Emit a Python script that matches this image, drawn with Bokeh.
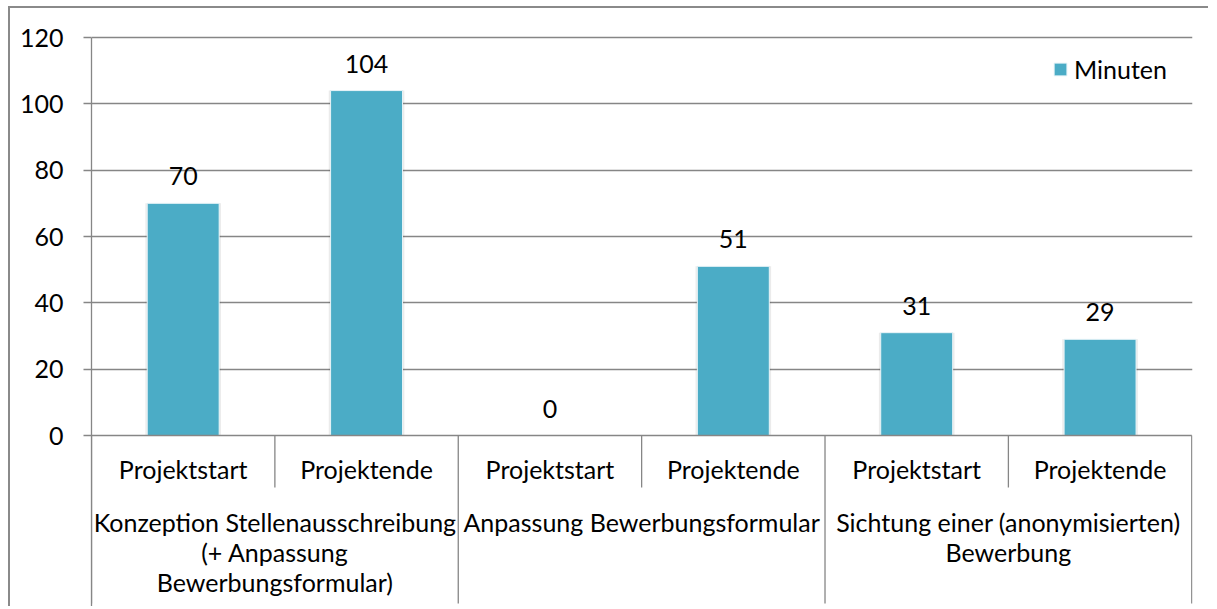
from bokeh.plotting import figure
from bokeh.models import Range1d, FixedTicker, ColumnDataSource, Legend, LegendItem
from bokeh.embed import file_html
from bokeh.resources import INLINE
from bokeh.core.properties import value

# ---- data ----
groups = ["Konzeption Stellenausschreibung\n(+ Anpassung\nBewerbungsformular)",
          "Anpassung Bewerbungsformular",
          "Sichtung einer (anonymisierten)\nBewerbung"]
phases = ["Projektstart", "Projektende"]
minutes = [70, 104, 0, 51, 31, 29]
y_ticks = [0, 20, 40, 60, 80, 100, 120]
series_name = "Minuten"

# ---- style ----
FONT = "Lato"
FS = "25px"
BAR = "#4BACC6"
GRID = "#868686"
TXT = "#000000"

W, H = 1200, 600
BL, BR, BT, BB = 81, 18, 21, 0
frame_h = H - BT - BB
k = 398.0 / 120.0          # px per y unit
top_pad = 8                 # px above top gridline
y_end = max(y_ticks) + top_pad / k
y_start = y_end - frame_h / k

n = len(groups) * len(phases)
p = figure(width=W, height=H, output_backend="svg", toolbar_location=None,
           x_range=Range1d(0, n + 0.004), y_range=Range1d(y_start, y_end),
           x_axis_location=None, min_border_left=BL, min_border_right=BR,
           min_border_top=BT, min_border_bottom=BB)
p.styles = {"margin-left": "8px", "margin-top": "6px",
            "border-left": "2px solid #8a8a8a", "border-top": "2px solid #8a8a8a"}
p.outline_line_color = None
p.background_fill_color = "#ffffff"
p.border_fill_color = "#ffffff"

# y axis
ya = p.yaxis[0]
ya.ticker = FixedTicker(ticks=y_ticks)
ya.bounds = (y_start, max(y_ticks))
ya.axis_line_color = GRID
ya.axis_line_width = 1.3
ya.major_tick_line_color = GRID
ya.major_tick_line_width = 1.3
ya.major_tick_out = 8
ya.major_tick_in = 0
ya.minor_tick_line_color = None
ya.major_label_standoff = 20
ya.major_label_text_font = FONT
ya.major_label_text_font_size = FS
ya.major_label_text_color = TXT

p.xgrid.visible = False
p.ygrid.ticker = FixedTicker(ticks=[t for t in y_ticks if t > 0])
p.ygrid.grid_line_color = GRID
p.ygrid.grid_line_width = 1.3

# bars
xs = [i + 0.5 for i in range(n)]
src = ColumnDataSource(dict(x=xs, top=minutes, lbl=[str(v) for v in minutes]))
bw = 72.0 / (1101.0 / n)
p.vbar(x="x", top="top", width=bw + 0.02, bottom=0, source=src,
       fill_color="#000000", fill_alpha=0.08, line_color=None)
bars = p.vbar(x="x", top="top", width=bw, bottom=0, source=src,
              fill_color=BAR, line_color="#e8f4f8", line_width=1)

# data labels
p.text(x="x", y="top", text="lbl", source=src, text_align="center",
       text_baseline="alphabetic", y_offset=-27, text_font=value(FONT),
       text_font_size=FS, text_color=TXT)

# category axis: baseline + separators
p.segment(x0=[0], y0=[0], x1=[n], y1=[0], line_color=GRID, line_width=1.3)
sep_x = list(range(n + 1))
sep_y1 = [-168.0 / k if i % len(phases) == 0 else -52.0 / k for i in sep_x]
p.segment(x0=sep_x, y0=[0] * len(sep_x), x1=sep_x, y1=sep_y1,
          line_color=GRID, line_width=1.3)

# phase labels
sub_src = ColumnDataSource(dict(x=xs, y=[-33.0 / k] * n,
                                t=[phases[i % len(phases)] for i in range(n)]))
p.text(x="x", y="y", text="t", source=sub_src, text_align="center",
       text_baseline="alphabetic", text_font=value(FONT), text_font_size=FS,
       text_color=TXT)

# group labels (wrapped lines)
gx, gy, gt = [], [], []
for gi, g in enumerate(groups):
    for li, line in enumerate(g.split("\n")):
        gx.append(gi * len(phases) + len(phases) / 2.0)
        gy.append(-(86.0 + 30.0 * li) / k)
        gt.append(line)
p.text(x=gx, y=gy, text=gt, text_align="center", text_baseline="alphabetic",
       text_font=value(FONT), text_font_size=FS, text_color=TXT)

# legend
leg = Legend(items=[LegendItem(label=series_name, renderers=[bars])],
             location="top_right", margin=25, padding=0, spacing=0,
             glyph_width=16, glyph_height=16, label_standoff=6,
             label_text_font=FONT, label_text_font_size=FS,
             label_text_color=TXT, border_line_color=None,
             background_fill_alpha=0)
p.add_layout(leg)

open("out.html", "w").write(file_html(p, INLINE))
